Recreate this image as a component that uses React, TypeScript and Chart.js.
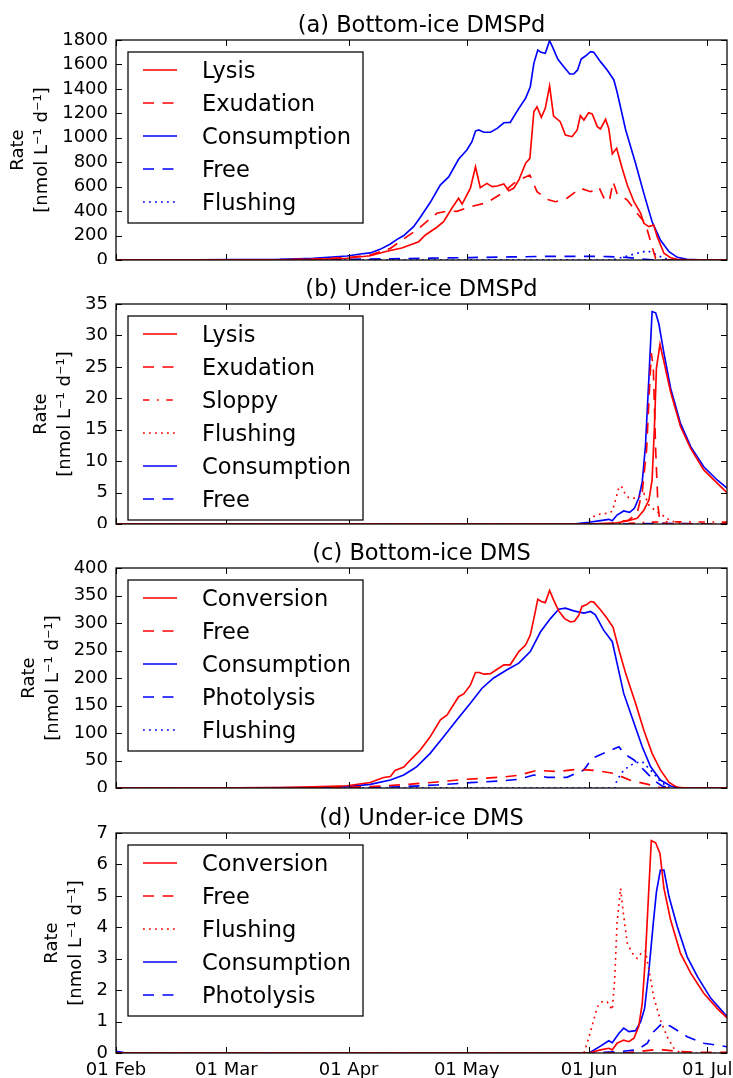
import React, { useEffect, useRef } from 'react';
import { Chart, registerables } from 'chart.js';

Chart.register(...registerables);

type P = [number, number][];

// x values are days since 01 Feb
const tickDays = [0, 28, 59, 89, 120, 150];
const tickLabels = ['01 Feb', '01 Mar', '01 Apr', '01 May', '01 Jun', '01 Jul'];
const X_MAX = 155;
const yLabelLines = ['Rate', '[nmol L\u207B\u00B9 d\u207B\u00B9]'];

// (a) Bottom-ice DMSPd
const aLysis: P = [[0,0.5],[20,1],[35,1.5],[41.6,2],[50,5],[58.6,14],[64.5,35],[68.7,72],[72.5,98],[76.8,150],[78.5,205],[81.4,268],[83.1,313],[85.2,423],[86.9,505],[87.8,458],[89.9,587],[91.2,763],[92.4,592],[94.1,627],[95.4,600],[96.7,605],[98.4,622],[99.6,567],[100.9,587],[102.2,655],[103.9,791],[105,832],[106,1213],[106.8,1254],[107.9,1167],[108.9,1241],[110,1424],[111,1178],[112.7,1132],[114,1023],[115.7,1009],[117,1064],[117.8,1181],[118.7,1145],[119.9,1205],[120.8,1195],[122.1,1091],[122.9,1072],[124.2,1151],[125,1077],[125.9,867],[127,914],[128.4,750],[129.7,614],[131.4,477],[133.1,382],[133.9,300],[135.2,273],[136.4,286],[137.3,191],[139,55],[140.7,19],[142.4,5],[145,1],[155,0.5]];
const aExudation: P = [[0,0.5],[41.6,2],[50,6],[58.6,20],[64.5,41],[69.6,95],[73.8,191],[76.3,245],[79.3,327],[81.4,382],[84,400],[86.5,398],[89.9,436],[94.1,469],[97.9,545],[100.9,627],[102.2,655],[105,695],[106.8,559],[109.4,496],[111.5,477],[114.4,505],[117.8,587],[120.4,559],[122.5,595],[124.2,477],[125.3,505],[126.1,641],[127.1,545],[129.7,491],[132.2,382],[134.3,300],[136,109],[136.9,14],[138,0],[155,0]];
const aConsumption: P = [[0,1],[20,2],[30,3],[41.6,5],[50,14],[58.6,33],[62,49],[64.5,58],[67,87],[69.6,131],[71.3,169],[73,200],[75.5,273],[77.2,350],[79.7,470],[82.3,615],[84.4,680],[86.9,824],[89,900],[90.3,968],[91.2,1055],[92,1064],[93.3,1045],[95,1045],[96.7,1077],[98.4,1123],[100,1126],[102.2,1241],[103.9,1323],[105.1,1418],[106,1609],[107,1718],[107.8,1699],[108.9,1691],[110,1794],[110.9,1732],[112.1,1642],[113.6,1582],[115.1,1522],[116.1,1522],[117.1,1555],[118,1645],[119.1,1669],[120.4,1704],[121.2,1699],[122.9,1623],[124.6,1555],[126.3,1473],[127.1,1377],[129.3,1064],[131.8,791],[133.9,545],[136,313],[138.1,164],[140.3,68],[142.4,22],[144.9,5],[148,2],[155,1]];
const aFree: P = [[0,0],[40,2],[60,6],[70,10],[80,15],[90,20],[100,25],[110,30],[120,30],[125,28],[130,20],[133,10],[136,2],[138,0],[155,0]];
const aFlushing: P = [[0,0],[126,0],[128.8,25],[132.2,55],[134.8,76],[137.3,41],[139,14],[140.5,4],[142,0],[155,0]];

// (b) Under-ice DMSPd
const bLysis: P = [[0,0],[120,0],[127.1,0.2],[129.7,0.5],[132.2,0.9],[133.9,2.2],[135.2,3.8],[136,7],[136.6,15.5],[137.1,24.8],[138,28.6],[139,25.8],[140.7,21],[143.2,15.5],[145.8,12],[149.1,8.6],[152.5,6.5],[155,5.0]];
const bExudation: P = [[0,0],[126,0],[127,0.3],[130,0.6],[132.2,1.7],[133.5,5.1],[134.6,11.8],[135.4,22.4],[135.8,27.2],[136.3,25],[136.9,11.8],[137.5,2.8],[138,0.3],[140,0],[155,0]];
const bSloppy: P = [[0,0],[127,0],[130,0.1],[136,0.3],[140,0.35],[155,0.3]];
const bFlushing: P = [[0,0],[119,0],[120,0.5],[121.2,1.2],[122.9,1.6],[124.6,1.7],[125.9,2],[126.7,3.8],[127.6,5.9],[128.2,6.0],[129.3,4.6],[130.1,4.2],[131.3,4.1],[132.6,4.3],[133.9,4.9],[135.2,3.0],[136.9,2.1],[138.6,1.4],[140.7,0.5],[142.5,0.2],[145,0],[155,0]];
const bConsumption: P = [[0,0],[116,0],[120,0.27],[122.9,0.53],[125,0.74],[125.9,0.53],[127.1,1.43],[128.8,2.07],[130.3,1.86],[131.5,2.5],[132.6,4.1],[133.5,6.7],[134.3,12.3],[135.2,23.4],[136,33.8],[136.9,33.6],[137.7,31.9],[139,27.2],[140.7,21.6],[143.2,16],[145.8,12.3],[149.1,9.1],[152.5,7],[155,5.7]];
const bFree: P = [[0,0],[130,0],[135,0.05],[138,0.1],[145,0.05],[155,0.03]];

// (c) Bottom-ice DMS
const cConversion: P = [[0,0],[30,0.5],[41.6,1],[50,2],[58.6,4],[64.5,10],[67.9,19],[69.6,21],[70.8,32],[73,38],[75.1,54],[77.2,69],[79.7,93],[82.3,124],[84,133],[86.9,166],[88.2,171],[89.9,187],[91.2,210],[92.2,210],[93.3,207],[95,208],[96.7,216],[98.4,224],[100,224],[102.2,248],[103.9,260],[105.1,278],[106,308],[107,343],[107.9,339],[108.9,337],[110,359],[111,342],[112.3,322],[113.8,308],[115.3,302],[116.3,303],[117.4,314],[118.2,330],[119.3,333],[120.4,339],[121.2,338],[122.9,324],[124.6,308],[126.1,292],[127.6,251],[129.3,208],[131.8,154],[133.9,105],[136,63],[138.1,33],[140.3,10],[142.4,1.2],[145,0],[155,0]];
const cFree: P = [[0,0],[50,0.5],[60,1.5],[64.5,2.5],[73,6],[81.4,11],[89,16],[98.4,20],[102,23],[106.8,32],[111.9,30],[117,34],[122.1,31.5],[126.2,26.7],[130.3,14.5],[135.6,5.5],[138,1],[140,0],[155,0]];
const cConsumption: P = [[0,0],[30,0.3],[50,1],[58.6,2.4],[64.5,6.5],[69.6,14.5],[73,23.6],[75.5,35],[76.3,38.8],[79.7,63],[83.1,93],[86.5,124],[89.9,154],[92.8,181],[95.8,200],[99.2,215],[102.2,227],[105.1,248],[107.7,284],[110.2,308],[112.3,325],[114,327],[116.1,322],[118.7,318],[120.4,321],[121.6,315],[123.7,287],[125.9,266],[127.1,227],[128.8,172],[131.4,118],[133.5,75],[135.6,39],[138.1,14.5],[140.7,3.6],[143,0.5],[155,0]];
const cPhotolysis: P = [[0,0],[60,0.5],[73,2.4],[81.4,5.5],[89.9,9.7],[98.4,13.3],[102.2,15.8],[106,23.6],[109.4,19.4],[114.4,19.4],[118.7,32.7],[120.8,54],[123.7,63],[125.9,70],[127.6,75],[128.8,63],[131.4,51],[133.9,33],[136.4,14.5],[138.5,3.6],[141,0],[155,0]];
const cFlushing: P = [[0,0],[126.5,0],[127.1,14.5],[128.8,32.7],[131.4,45],[133.5,48],[135.6,32.7],[138.1,11.5],[140,2],[141.5,0],[155,0]];

// (d) Under-ice DMS
const dConversion: P = [[0,0],[120,0],[122.9,0.1],[125,0.15],[125.9,0.1],[127.1,0.31],[128.8,0.41],[130.1,0.36],[131.4,0.47],[132.6,0.84],[133.5,1.58],[134.3,3.06],[135.2,5.29],[135.8,6.76],[136.9,6.69],[138,6.35],[139,5.24],[140.7,4.23],[143.2,3.17],[145.8,2.54],[149.1,1.9],[152.5,1.42],[155,1.12]];
const dFree: P = [[0,0],[126,0],[130,0.01],[132.2,0.04],[136.4,0.1],[139,0.1],[142.4,0.05],[149,0.02],[155,0.02]];
const dFlushing: P = [[0,0],[118.7,0],[119.9,0.47],[121.2,1.05],[122.1,1.47],[123.3,1.63],[124.6,1.63],[125.9,1.37],[126.5,2.32],[127.1,4.13],[128,5.24],[128.7,4.45],[129.7,3.49],[131,3.17],[132.2,3.01],[133.5,3.22],[134.3,3.25],[135.2,2.64],[136.4,1.79],[138.1,1.05],[139.8,0.52],[141.5,0.15],[143,0.02],[145,0],[155,0]];
const dConsumption: P = [[0,0.05],[2,0.01],[4,0],[120,0],[122.9,0.22],[125,0.39],[125.9,0.33],[127.6,0.63],[128.8,0.79],[130.1,0.68],[131.8,0.71],[133.1,1.0],[134.1,1.42],[135.2,2.64],[136.3,4.13],[137.1,5.13],[138.1,5.82],[139,5.82],[140.3,4.97],[142.4,4.02],[144.9,3.06],[147.5,2.43],[150.9,1.74],[155,1.16]];
const dPhotolysis: P = [[0,0],[120,0],[128,0.05],[132.2,0.1],[134.8,0.31],[136.4,0.68],[138.6,0.95],[140.7,0.85],[144.9,0.52],[149.1,0.31],[155,0.2]];

const RED = '#ff0000';
const BLUE = '#0000ff';
const SOLID: number[] = [];
const DASH = [11, 8.5];
const DOT = [1.8, 4.2];
const DASHDOT = [6.5, 7.5, 1.8, 7.5];
const FONT = '"DejaVu Sans", "Bitstream Vera Sans", sans-serif';
const LINE_W = 1.65;

interface SeriesDef { label: string; data: P; color: string; dash: number[] }
interface PanelDef { title: string; yMax: number; yStep: number; series: SeriesDef[]; top: number; height: number; showX: boolean }

const panels: PanelDef[] = [
  {
    title: '(a) Bottom-ice DMSPd', yMax: 1800, yStep: 200, top: 0, height: 264, showX: false,
    series: [
      { label: 'Lysis', data: aLysis, color: RED, dash: SOLID },
      { label: 'Exudation', data: aExudation, color: RED, dash: DASH },
      { label: 'Consumption', data: aConsumption, color: BLUE, dash: SOLID },
      { label: 'Free', data: aFree, color: BLUE, dash: DASH },
      { label: 'Flushing', data: aFlushing, color: BLUE, dash: DOT },
    ],
  },
  {
    title: '(b) Under-ice DMSPd', yMax: 35, yStep: 5, top: 264, height: 264, showX: false,
    series: [
      { label: 'Lysis', data: bLysis, color: RED, dash: SOLID },
      { label: 'Exudation', data: bExudation, color: RED, dash: DASH },
      { label: 'Sloppy', data: bSloppy, color: RED, dash: DASHDOT },
      { label: 'Flushing', data: bFlushing, color: RED, dash: DOT },
      { label: 'Consumption', data: bConsumption, color: BLUE, dash: SOLID },
      { label: 'Free', data: bFree, color: BLUE, dash: DASH },
    ],
  },
  {
    title: '(c) Bottom-ice DMS', yMax: 400, yStep: 50, top: 528, height: 264, showX: false,
    series: [
      { label: 'Conversion', data: cConversion, color: RED, dash: SOLID },
      { label: 'Free', data: cFree, color: RED, dash: DASH },
      { label: 'Consumption', data: cConsumption, color: BLUE, dash: SOLID },
      { label: 'Photolysis', data: cPhotolysis, color: BLUE, dash: DASH },
      { label: 'Flushing', data: cFlushing, color: BLUE, dash: DOT },
    ],
  },
  {
    title: '(d) Under-ice DMS', yMax: 7, yStep: 1, top: 793, height: 285, showX: true,
    series: [
      { label: 'Conversion', data: dConversion, color: RED, dash: SOLID },
      { label: 'Free', data: dFree, color: RED, dash: DASH },
      { label: 'Flushing', data: dFlushing, color: RED, dash: DOT },
      { label: 'Consumption', data: dConsumption, color: BLUE, dash: SOLID },
      { label: 'Photolysis', data: dPhotolysis, color: BLUE, dash: DASH },
    ],
  },
];

const TICK_LEN = 6;

function makeDecor(panel: PanelDef) {
  return {
    id: 'decor',
    afterDatasetsDraw(chart: any) {
      const { ctx, chartArea: a, scales } = chart;
      const xs = scales.x;
      const ys = scales.y;
      ctx.save();
      ctx.setLineDash([]);
      // frame
      ctx.strokeStyle = '#000';
      ctx.lineWidth = 1.25;
      ctx.strokeRect(a.left, a.top, a.right - a.left, a.bottom - a.top);
      // inward ticks on all sides
      ctx.lineWidth = 1;
      ctx.beginPath();
      tickDays.forEach((d) => {
        const px = Math.round(xs.getPixelForValue(d)) + 0.5;
        ctx.moveTo(px, a.bottom);
        ctx.lineTo(px, a.bottom - TICK_LEN);
        ctx.moveTo(px, a.top);
        ctx.lineTo(px, a.top + TICK_LEN);
      });
      ys.ticks.forEach((t: any) => {
        const py = Math.round(ys.getPixelForValue(t.value)) + 0.5;
        ctx.moveTo(a.left, py);
        ctx.lineTo(a.left + TICK_LEN, py);
        ctx.moveTo(a.right, py);
        ctx.lineTo(a.right - TICK_LEN, py);
      });
      ctx.stroke();

      // legend
      const n = panel.series.length;
      const lx = a.left + 12;
      const ly = a.top + 12;
      const lw = 235;
      const lh = 33 * n + 6;
      ctx.fillStyle = '#fff';
      ctx.fillRect(lx, ly, lw, lh);
      ctx.strokeStyle = '#000';
      ctx.lineWidth = 1.25;
      ctx.strokeRect(lx, ly, lw, lh);
      ctx.font = `22.5px ${FONT}`;
      ctx.textAlign = 'left';
      ctx.textBaseline = 'alphabetic';
      panel.series.forEach((s, i) => {
        const cy = ly + 18 + 33 * i;
        ctx.strokeStyle = s.color;
        ctx.lineWidth = LINE_W;
        ctx.setLineDash(s.dash);
        ctx.beginPath();
        ctx.moveTo(lx + 15, cy);
        ctx.lineTo(lx + 49, cy);
        ctx.stroke();
        ctx.setLineDash([]);
        ctx.fillStyle = '#000';
        ctx.fillText(s.label, lx + 74, cy + 8);
      });

      // title
      ctx.font = `22.5px ${FONT}`;
      ctx.textAlign = 'center';
      ctx.fillStyle = '#000';
      ctx.fillText(panel.title, (a.left + a.right) / 2, a.top - 8);

      // y label
      ctx.font = `18px ${FONT}`;
      const maxW = Math.max(...ys.ticks.map((t: any) => ctx.measureText(String(t.value)).width));
      const L = a.left - 8 - maxW;
      const cy = (a.top + a.bottom) / 2;
      const offsets = [44, 20];
      yLabelLines.forEach((line, i) => {
        ctx.save();
        ctx.translate(L - offsets[i], cy);
        ctx.rotate(-Math.PI / 2);
        ctx.textAlign = 'center';
        ctx.textBaseline = 'middle';
        ctx.fillText(line, 0, 0);
        ctx.restore();
      });
      ctx.restore();
    },
  };
}

function Panel({ panel }: { panel: PanelDef }) {
  const ref = useRef<HTMLCanvasElement | null>(null);
  useEffect(() => {
    if (!ref.current) return;
    const chart = new Chart(ref.current, {
      type: 'line',
      data: {
        datasets: panel.series.map((s) => ({
          label: s.label,
          data: s.data.map(([x, y]) => ({ x, y })),
          borderColor: s.color,
          backgroundColor: s.color,
          borderWidth: LINE_W,
          borderDash: s.dash,
          pointRadius: 0,
          fill: false,
          tension: 0,
        })),
      },
      options: {
        animation: false,
        responsive: false,
        events: [],
        layout: { padding: { left: 0, right: 6, top: 40, bottom: panel.showX ? 0 : 4 } },
        plugins: { legend: { display: false }, title: { display: false }, tooltip: { enabled: false } },
        scales: {
          x: {
            type: 'linear',
            min: 0,
            max: X_MAX,
            grid: { display: false, drawTicks: false },
            border: { display: false },
            ticks: {
              display: panel.showX,
              autoSkip: false,
              maxRotation: 0,
              padding: 7,
              color: '#000',
              font: { family: FONT, size: 18 },
              callback: (v: any) => {
                const i = tickDays.indexOf(Number(v));
                return i >= 0 ? tickLabels[i] : '';
              },
            },
            afterBuildTicks: (s: any) => {
              s.ticks = tickDays.map((v) => ({ value: v }));
            },
            afterFit: (s: any) => {
              s.height = panel.showX ? 25 : 0;
              s.paddingLeft = 0;
              s.paddingRight = 0;
            },
          },
          y: {
            min: 0,
            max: panel.yMax,
            grid: { display: false, drawTicks: false },
            border: { display: false },
            ticks: {
              stepSize: panel.yStep,
              autoSkip: false,
              padding: 8,
              color: '#000',
              font: { family: FONT, size: 18 },
              callback: (v: any) => String(v),
            },
            afterFit: (s: any) => {
              s.width = 116;
              s.paddingTop = 0;
              s.paddingBottom = 0;
            },
          },
        },
      },
      plugins: [makeDecor(panel)],
    } as any);
    return () => chart.destroy();
  }, [panel]);
  return (
    <canvas
      ref={ref}
      width={733}
      height={panel.height}
      style={{ position: 'absolute', left: 0, top: panel.top, width: 733, height: panel.height }}
    />
  );
}

export default function App() {
  return (
    <div style={{ position: 'absolute', left: 0, top: 0, width: 733, height: 1078, background: '#fff', overflow: 'hidden' }}>
      {panels.map((p) => (
        <Panel key={p.title} panel={p} />
      ))}
    </div>
  );
}
